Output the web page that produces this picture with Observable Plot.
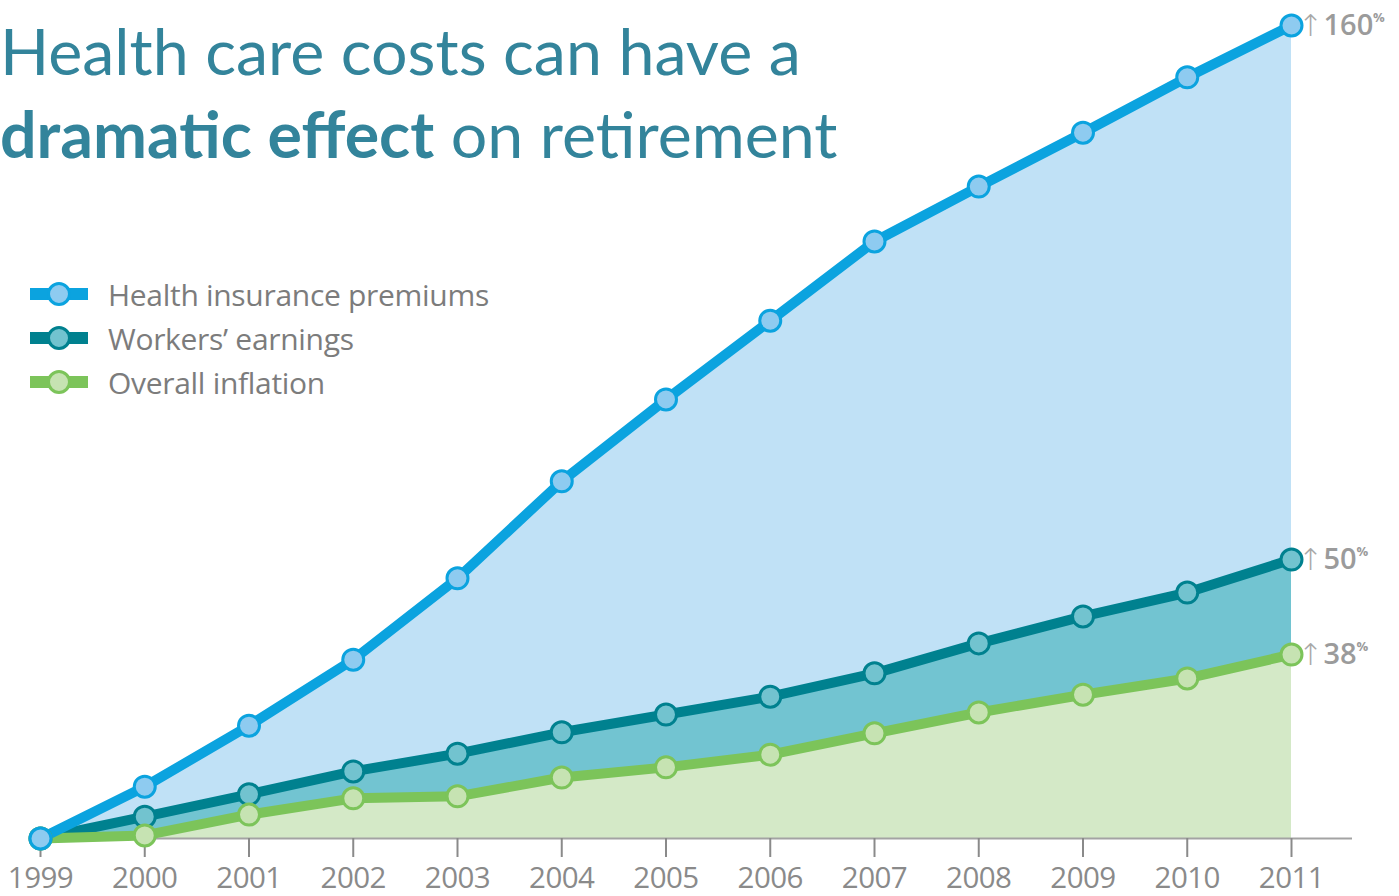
<!DOCTYPE html>
<html>
<head>
<meta charset="utf-8">
<script src="https://cdn.jsdelivr.net/npm/d3@7"></script>
<script src="https://cdn.jsdelivr.net/npm/@observablehq/plot@0.6"></script>
<style>
  html, body { margin: 0; padding: 0; background: #fff; }
  #wrap { position: relative; width: 1399px; height: 896px; overflow: hidden; }
  #title { position: absolute; left: 0; top: 9px; font-family: Lato, "Open Sans", sans-serif; font-size: 64.5px; line-height: 83px; color: #33849b; white-space: nowrap; }
  #title b { font-weight: 700; }
  #legend { position: absolute; left: 30px; top: 272px; font-family: "Open Sans", Lato, sans-serif; font-size: 30px; color: #7c7c7c; letter-spacing: -0.3px; }
  .row { display: flex; align-items: center; height: 44px; }
  .row svg { margin-right: 20px; }
  #chart { position: absolute; left: 0; top: 0; }
  #chart [aria-label="x-axis tick"] path { stroke-width: 2; }
  #chart [aria-label="x-axis tick label"] text { letter-spacing: -0.5px; }
</style>
</head>
<body>
<div id="wrap">
  <div id="chart"></div>
  <div id="title">Health care costs can have a<br><b>dramatic effect</b> on retirement</div>
  <div id="legend"></div>
</div>
<script>
const years = [1999, 2000, 2001, 2002, 2003, 2004, 2005, 2006, 2007, 2008, 2009, 2010, 2011];
const health = [0, 10.2, 22.2, 35.2, 51.2, 70.3, 86.4, 101.9, 117.5, 128.3, 138.9, 149.8, 160];
const workers = [0, 4.3, 8.7, 13.2, 16.7, 20.9, 24.4, 27.9, 32.5, 38.4, 43.7, 48.4, 54.9];
const inflation = [0, 0.6, 4.7, 7.9, 8.3, 12.0, 14.0, 16.5, 20.7, 24.8, 28.3, 31.5, 36.2];
const seriesNames = ["Health insurance premiums", "Workers\u2019 earnings", "Overall inflation"];
const endLabels = ["160", "50", "38"];

const styles = [
  {line: "#0ba3df", area: "#c0e1f6", dot: "#8ecbf0"},
  {line: "#00818f", area: "#72c4d1", dot: "#72c3cf"},
  {line: "#7cc45a", area: "#d4e9c7", dot: "#c6e3b2"}
];

const table = years.map((y, i) => ({year: y, health: health[i], workers: workers[i], inflation: inflation[i]}));
const keys = ["health", "workers", "inflation"];
const last = table[table.length - 1];
const ends = keys.map((k, i) => ({year: last.year, value: last[k], label: endLabels[i]}));

const marks = [];
keys.forEach((k, i) => marks.push(Plot.areaY(table, {x: "year", y: k, fill: styles[i].area})));
marks.push(Plot.ruleY([0], {stroke: "#a3a3a3", strokeWidth: 2, insetRight: -61}));
marks.push(Plot.axisX({ticks: years, tickFormat: d => String(d), tickSize: 19, tickPadding: 10, color: "#8a8a8a", fontSize: 29.5, fontFamily: "Open Sans", label: null}));
[1, 2, 0].forEach(i => marks.push(Plot.line(table, {x: "year", y: keys[i], stroke: styles[i].line, strokeWidth: 10, strokeLinejoin: "round", strokeLinecap: "round"})));
[1, 2, 0].forEach(i => marks.push(Plot.dot(table, {x: "year", y: keys[i], r: 10.5, fill: styles[i].dot, stroke: styles[i].line, strokeWidth: 3})));
marks.push(Plot.text(ends, {x: "year", y: "value", text: () => "\u2191", dx: 19, dy: 1, fontSize: 30, fill: "#a8a8a8", fontFamily: "DejaVu Sans", fontWeight: 300, lineAnchor: "middle"}));
ends.forEach(e => {
  marks.push(Plot.text([e], {x: "year", y: "value", text: "label", dx: 32, textAnchor: "start", fontSize: 29, fontWeight: 600, fill: "#9b9b9b", fontFamily: "Open Sans", letterSpacing: -1, lineAnchor: "middle"}));
  marks.push(Plot.text([e], {x: "year", y: "value", text: () => "%", dx: 32 + e.label.length * 16.5, dy: -8, textAnchor: "start", fontSize: 13, fontWeight: 700, fill: "#9b9b9b", fontFamily: "Open Sans", lineAnchor: "middle"}));
});

const plot = Plot.plot({
  width: 1399,
  height: 896,
  marginLeft: 40,
  marginRight: 108,
  marginTop: 25,
  marginBottom: 58,
  style: {fontFamily: "Open Sans", background: "transparent", overflow: "visible"},
  x: {domain: [1999, 2011], axis: null},
  y: {domain: [0, 160], axis: null},
  marks
});
document.getElementById("chart").appendChild(plot);

const legend = document.getElementById("legend");
seriesNames.forEach((name, i) => {
  const row = document.createElement("div");
  row.className = "row";
  row.innerHTML = `<svg width="58" height="26" viewBox="0 0 58 26"><rect x="0" y="7" width="58" height="12" fill="${styles[i].line}"/><circle cx="29" cy="13" r="10.5" fill="${styles[i].dot}" stroke="${styles[i].line}" stroke-width="3"/></svg><span>${name}</span>`;
  legend.appendChild(row);
});
</script>
</body>
</html>
